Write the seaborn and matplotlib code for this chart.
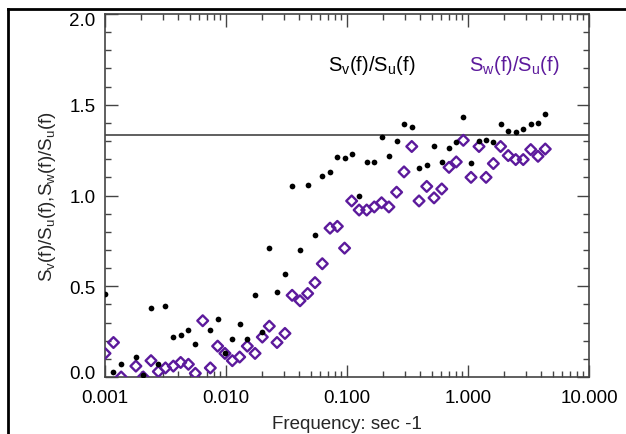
import numpy as np
import pandas as pd
import matplotlib
matplotlib.use("Agg")
import matplotlib.pyplot as plt
import matplotlib.transforms as mtransforms
from matplotlib.lines import Line2D
from matplotlib.ticker import FixedLocator, FixedFormatter, MultipleLocator, LogLocator, NullFormatter
import seaborn as sns

# Spectral ratios against frequency (Hz)
freq = [0.00100, 0.001175, 0.00136, 0.00180, 0.00207, 0.00240, 0.00276, 0.00316,
        0.00367, 0.00422, 0.00489, 0.00558, 0.00642, 0.00742, 0.00853, 0.00980,
        0.01128, 0.01297, 0.01500, 0.01738, 0.01996, 0.0228, 0.0264, 0.0307,
        0.0352, 0.0409, 0.0473, 0.0544, 0.0625, 0.0724, 0.0832, 0.0955,
        0.1093, 0.126, 0.1455, 0.168, 0.193, 0.222, 0.257, 0.296,
        0.343, 0.394, 0.456, 0.524, 0.607, 0.697, 0.800, 0.915,
        1.059, 1.233, 1.41, 1.62, 1.86, 2.15, 2.48, 2.86,
        3.30, 3.79, 4.35]

sv_su = [0.46, 0.03, 0.07, 0.11, 0.01, 0.38, 0.07, 0.39,
         0.22, 0.23, 0.26, 0.18, np.nan, 0.26, 0.32, 0.13,
         0.21, 0.29, 0.21, 0.45, 0.25, 0.71, 0.47, 0.57,
         1.055, 0.70, 1.06, 0.78, 1.106, 1.128, 1.21, 1.207,
         1.229, 0.998, 1.185, 1.185, 1.32, 1.218, 1.30, 1.396,
         1.377, 1.152, 1.168, 1.27, 1.187, 1.26, 1.295, 1.432,
         1.18, 1.30, 1.304, 1.293, 1.393, 1.353, 1.35, 1.368,
         1.396, 1.399, 1.447]

sw_su = [0.13, 0.19, 0.00, 0.06, 0.00, 0.09, 0.03, 0.05,
         0.06, 0.08, 0.07, 0.02, 0.31, 0.05, 0.17, 0.13,
         0.09, 0.11, 0.17, 0.13, 0.22, 0.28, 0.19, 0.24,
         0.45, 0.42, 0.46, 0.52, 0.624, 0.82, 0.83, 0.71,
         0.97, 0.92, 0.92, 0.937, 0.96, 0.937, 1.018, 1.13,
         1.27, 0.97, 1.05, 0.987, 1.036, 1.155, 1.185, 1.304,
         1.10, 1.27, 1.10, 1.176, 1.27, 1.22, 1.198, 1.198,
         1.253, 1.216, 1.256]

ref_level = 4.0 / 3.0

x_ticks = [0.001, 0.01, 0.1, 1.0, 10.0]
x_tick_labels = ["0.001", "0.010", "0.100", "1.000", "10.000"]
y_ticks = [0.0, 0.5, 1.0, 1.5, 2.0]
y_tick_labels = ["0.0", "0.5", "1.0", "1.5", "2.0"]

purple = "#5c1a9c"
axis_grey = "#444444"

sns.set_style("white")
plt.rcParams["font.family"] = ["Liberation Sans", "DejaVu Sans"]
plt.rcParams["mathtext.fontset"] = "custom"
plt.rcParams["mathtext.rm"] = "Liberation Sans"
plt.rcParams["mathtext.it"] = "Liberation Sans"
plt.rcParams["mathtext.bf"] = "Liberation Sans"

df = pd.DataFrame({"freq": freq, "sv": sv_su, "sw": sw_su})

fig = plt.figure(figsize=(6.26, 4.35), dpi=100)
ax = fig.add_axes([105 / 626, 1 - 378 / 435, 484 / 626, 363 / 435])

sns.scatterplot(data=df, x="freq", y="sw", ax=ax, marker="D", s=30,
                facecolor="none", edgecolor=purple, linewidth=1.7, zorder=3)
sns.scatterplot(data=df, x="freq", y="sv", ax=ax, marker="o", s=17,
                color="black", edgecolor="black", linewidth=0, zorder=4)

ax.axhline(ref_level, color=axis_grey, lw=1.2, zorder=2)

ax.set_xscale("log")
ax.set_xlim(0.001, 10.0)
ax.set_ylim(0.0, 2.0)

ax.xaxis.set_major_locator(FixedLocator(x_ticks))
ax.xaxis.set_major_formatter(FixedFormatter(x_tick_labels))
ax.xaxis.set_minor_locator(LogLocator(base=10, subs=np.arange(2, 10)))
ax.xaxis.set_minor_formatter(NullFormatter())
ax.yaxis.set_major_locator(FixedLocator(y_ticks))
ax.yaxis.set_major_formatter(FixedFormatter(y_tick_labels))
ax.yaxis.set_minor_locator(MultipleLocator(0.1))

ax.tick_params(which="both", direction="in", top=True, right=True,
               bottom=True, left=True, color=axis_grey, width=1.0,
               labelsize=13.5, labelcolor="black")
ax.tick_params(which="major", length=9, pad=9)
ax.tick_params(which="minor", length=4.5)
ax.tick_params(axis="y", which="major", pad=7)

for sp in ax.spines.values():
    sp.set_visible(True)
    sp.set_color(axis_grey)
    sp.set_linewidth(1.2)

ax.set_xlabel("Frequency: sec -1", fontsize=13.5, labelpad=6)
ax.set_ylabel(r"$\mathregular{S_v(f)/S_u(f){,}S_w(f)/S_u(f)}$", fontsize=13.5, labelpad=8)

ax.text(0.46, 0.86, r"$\mathregular{S_v(f)/S_u(f)}$", transform=ax.transAxes,
        fontsize=14.5, color="black", ha="left", va="center")
ax.text(0.752, 0.86, r"$\mathregular{S_w(f)/S_u(f)}$", transform=ax.transAxes,
        fontsize=14.5, color=purple, ha="left", va="center")

# keep the end labels of the y axis inside the plot height
fig.canvas.draw()
yticks = ax.yaxis.get_major_ticks()
nudge = {0: 4 / 72, len(yticks) - 1: -3 / 72}
for i, dy in nudge.items():
    lab = yticks[i].label1
    lab.set_transform(lab.get_transform() +
                      mtransforms.ScaledTranslation(0, dy, fig.dpi_scale_trans))

# heavy frame on the left and top of the figure
fx = 8 / 626
fy = 1 - 10 / 435
fig.add_artist(Line2D([fx, fx], [0.0, fy], transform=fig.transFigure,
                      color="black", lw=2.0, solid_capstyle="projecting"))
fig.add_artist(Line2D([fx, 1.0], [fy, fy], transform=fig.transFigure,
                      color="black", lw=2.0, solid_capstyle="projecting"))

fig.savefig("out.png", dpi=100, facecolor="white")
